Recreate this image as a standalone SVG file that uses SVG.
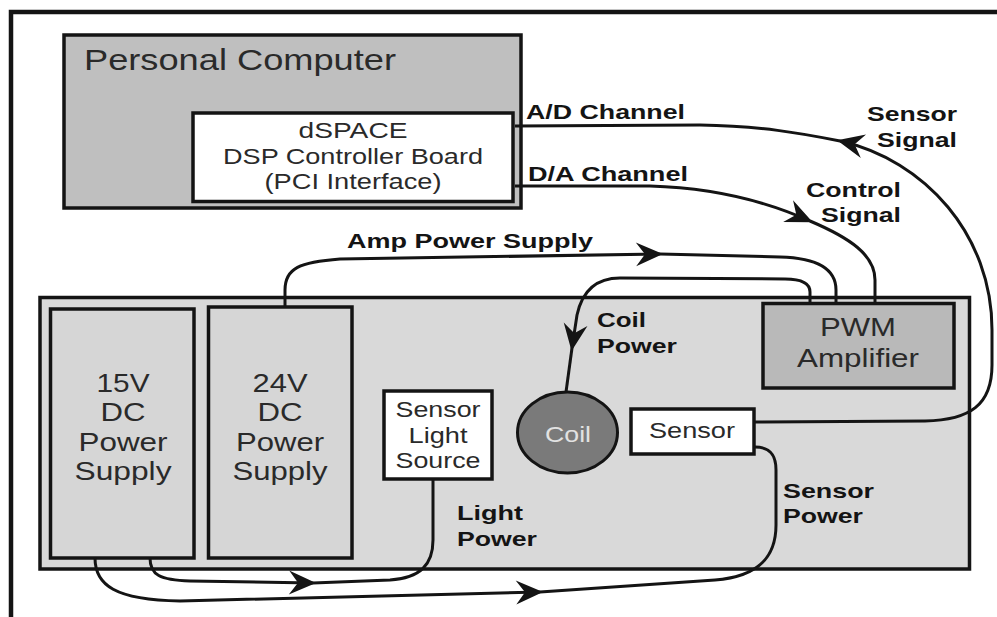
<svg xmlns="http://www.w3.org/2000/svg" width="997" height="617" viewBox="0 0 997 617">
<style>
.box{stroke:#141414;stroke-width:3.5}
.t{font-family:"Liberation Sans",Arial,sans-serif;fill:#2a2a2a}
.m{text-anchor:middle}
.l{font-family:"Liberation Sans",Arial,sans-serif;font-weight:bold;font-size:21px;fill:#141414}
.c{fill:none;stroke:#141414;stroke-width:3}
</style>
<defs>
<marker id="ah" markerUnits="userSpaceOnUse" viewBox="-30 -15 34 30" markerWidth="34" markerHeight="30" refX="0" refY="0" orient="auto">
<path d="M3,0 L-24,-12 L-15,0 L-24,12 Z" fill="#141414"/>
</marker>
</defs>
<rect width="997" height="617" fill="#ffffff"/>
<g id="frame">
<path d="M11,617 L11,12 L997,12" fill="none" stroke="#141414" stroke-width="4.5"/>
</g>
<g id="pc">
<rect class="box" x="64" y="35" width="457" height="173" fill="#bfbfbf"/>
<text class="t" x="84" y="70" font-size="30" textLength="312" lengthAdjust="spacingAndGlyphs">Personal Computer</text>
</g>
<g id="dspace">
<rect class="box" x="193" y="113" width="320" height="88.5" fill="#ffffff"/>
<text class="t m" x="353" y="138" font-size="22" textLength="109" lengthAdjust="spacingAndGlyphs">dSPACE</text>
<text class="t m" x="353" y="164" font-size="22" textLength="260" lengthAdjust="spacingAndGlyphs">DSP Controller Board</text>
<text class="t m" x="353" y="189" font-size="22" textLength="177" lengthAdjust="spacingAndGlyphs">(PCI Interface)</text>
</g>
<g id="platform">
<rect class="box" x="40" y="297.5" width="929.5" height="271.5" fill="#d9d9d9"/>
</g>
<g id="ps15">
<rect class="box" x="50.5" y="309" width="143.5" height="249" fill="#d6d6d6" stroke-width="4"/>
<text class="t m" x="123" y="392" font-size="26" textLength="53" lengthAdjust="spacingAndGlyphs">15V</text>
<text class="t m" x="123" y="421" font-size="26" textLength="45" lengthAdjust="spacingAndGlyphs">DC</text>
<text class="t m" x="123" y="451" font-size="26" textLength="89" lengthAdjust="spacingAndGlyphs">Power</text>
<text class="t m" x="123" y="480" font-size="26" textLength="97" lengthAdjust="spacingAndGlyphs">Supply</text>
</g>
<g id="ps24">
<rect class="box" x="208.5" y="307" width="143.5" height="251" fill="#d6d6d6" stroke-width="4"/>
<text class="t m" x="280" y="392" font-size="26" textLength="55" lengthAdjust="spacingAndGlyphs">24V</text>
<text class="t m" x="280" y="421" font-size="26" textLength="45" lengthAdjust="spacingAndGlyphs">DC</text>
<text class="t m" x="280" y="451" font-size="26" textLength="88" lengthAdjust="spacingAndGlyphs">Power</text>
<text class="t m" x="280" y="480" font-size="26" textLength="95" lengthAdjust="spacingAndGlyphs">Supply</text>
</g>
<g id="lightsource">
<rect class="box" x="384" y="391" width="108" height="88" fill="#ffffff"/>
<text class="t m" x="438" y="417" font-size="22" textLength="85" lengthAdjust="spacingAndGlyphs">Sensor</text>
<text class="t m" x="438" y="443" font-size="22" textLength="59" lengthAdjust="spacingAndGlyphs">Light</text>
<text class="t m" x="438" y="468" font-size="22" textLength="85" lengthAdjust="spacingAndGlyphs">Source</text>
</g>
<g id="coil">
<ellipse cx="567.5" cy="432.5" rx="50" ry="40.5" fill="#7a7a7a" stroke="#141414" stroke-width="3"/>
<text class="t m" x="568" y="442" font-size="22" textLength="46" lengthAdjust="spacingAndGlyphs" style="fill:#e2e2e2">Coil</text>
</g>
<g id="sensor">
<rect class="box" x="631" y="409" width="123" height="45" fill="#ffffff"/>
<text class="t m" x="692" y="438" font-size="22" textLength="86" lengthAdjust="spacingAndGlyphs">Sensor</text>
</g>
<g id="pwm">
<rect class="box" x="763" y="303.5" width="191" height="84.5" fill="#b9b9b9"/>
<text class="t m" x="858" y="336" font-size="26" textLength="76" lengthAdjust="spacingAndGlyphs">PWM</text>
<text class="t m" x="858" y="367" font-size="26" textLength="122" lengthAdjust="spacingAndGlyphs">Amplifier</text>
</g>
<g id="connectors">
<path class="c" d="M755,422 L925,421 C970,420 992,405 992,365 L992,330 C992,235 925,160 840,141" marker-end="url(#ah)"/>
<path class="c" d="M840,141 C800,133 760,126 700,125 L515,126"/>
<path class="c" d="M515,186 L650,186 C720,188 770,203 810,221" marker-end="url(#ah)"/>
<path class="c" d="M810,221 C850,238 875,255 875,280 L875,302"/>
<path class="c" d="M285,307 L285,290 C285,268 300,262 340,259 L660,254" marker-end="url(#ah)"/>
<path class="c" d="M660,254 L780,257 C820,258 836,270 836,290 L836,302"/>
<path class="c" d="M810,302 L810,292 C810,282 800,279 785,279 L620,278 C595,278 582,292 577,315 L572,348" marker-end="url(#ah)"/>
<path class="c" d="M572,348 L566,392"/>
<path class="c" d="M95,558 C95,585 115,600 180,601 L540,592" marker-end="url(#ah)"/>
<path class="c" d="M540,592 L715,580 C755,577 776,560 776,525 L776,470 C776,455 770,447 755,447"/>
<path class="c" d="M150,558 C150,575 160,580 190,581 L313,583" marker-end="url(#ah)"/>
<path class="c" d="M313,583 L390,580 C420,578 433,565 433,540 L433,479"/>
</g>
<g id="labels">
<text class="l" x="526" y="119" textLength="159" lengthAdjust="spacingAndGlyphs">A/D Channel</text>
<text class="l" x="528" y="181" textLength="160" lengthAdjust="spacingAndGlyphs">D/A Channel</text>
<text class="l" x="867" y="121" textLength="90" lengthAdjust="spacingAndGlyphs">Sensor</text>
<text class="l" x="877" y="147" textLength="80" lengthAdjust="spacingAndGlyphs">Signal</text>
<text class="l" x="806" y="197" textLength="95" lengthAdjust="spacingAndGlyphs">Control</text>
<text class="l" x="821" y="222" textLength="80" lengthAdjust="spacingAndGlyphs">Signal</text>
<text class="l" x="347" y="248" textLength="246" lengthAdjust="spacingAndGlyphs">Amp Power Supply</text>
<text class="l" x="597" y="327" textLength="49" lengthAdjust="spacingAndGlyphs">Coil</text>
<text class="l" x="597" y="353" textLength="80" lengthAdjust="spacingAndGlyphs">Power</text>
<text class="l" x="783" y="498" textLength="91" lengthAdjust="spacingAndGlyphs">Sensor</text>
<text class="l" x="783" y="523" textLength="80" lengthAdjust="spacingAndGlyphs">Power</text>
<text class="l" x="457" y="520" textLength="66" lengthAdjust="spacingAndGlyphs">Light</text>
<text class="l" x="457" y="546" textLength="80" lengthAdjust="spacingAndGlyphs">Power</text>
</g>
</svg>
